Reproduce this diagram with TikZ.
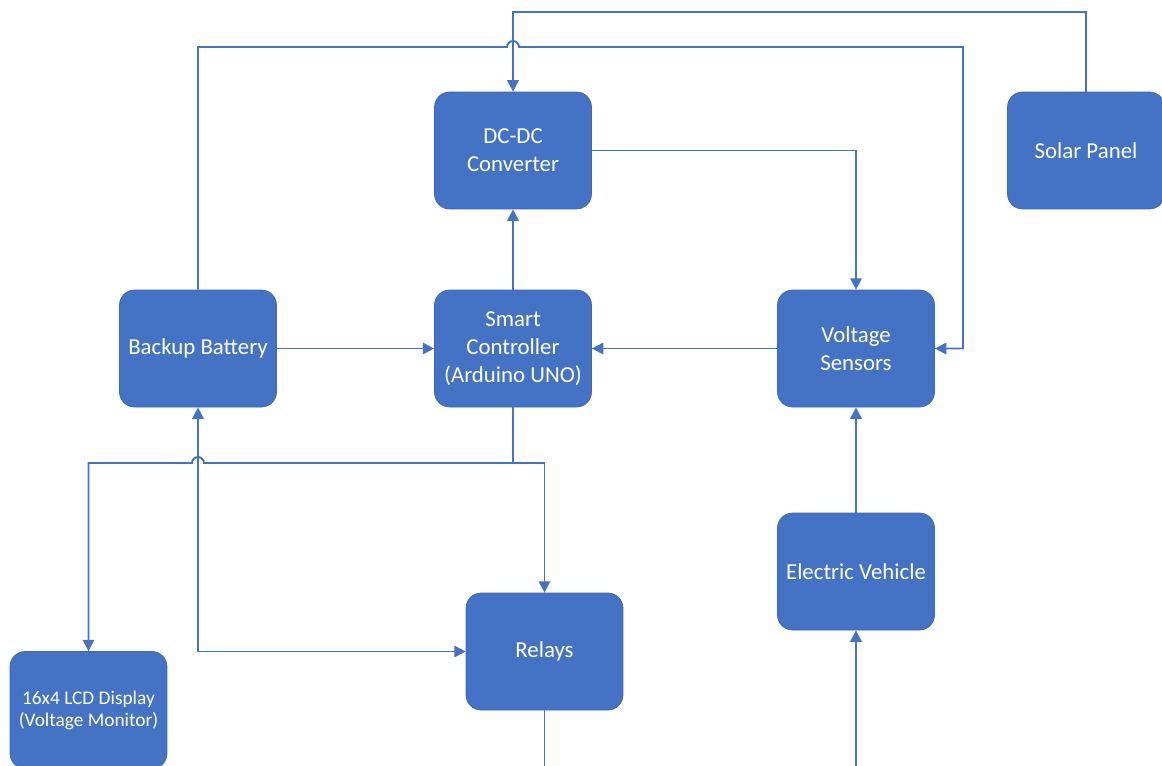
\documentclass[tikz,border=0pt]{standalone}
\usepackage{fontspec}
\setmainfont{Carlito}
\usepackage{xcolor}
\usepackage{tikz}
\usetikzlibrary{arrows.meta}

\definecolor{boxblue}{HTML}{4472C4}

\begin{document}
\begin{tikzpicture}[x = 0.02cm, y = -0.02cm,
        block/.style = {rectangle, rounded corners = 0.3cm, fill = boxblue, draw = boxblue!90!black, thin,
            minimum width = 3.14cm, minimum height = 2.34cm, text = white, align = center,
            font = \fontsize{13}{16}\selectfont, inner sep = 2pt},
        link/.style = {draw = boxblue, line width = 1.1pt, -{Triangle[length = 6.5pt, width = 6.5pt]}}]
        \useasboundingbox (0, 0) rectangle (1162, 765);
        \node (1) at (513, 150.5) [block] {DC-DC\\Converter};
        \node (2) at (1086, 150.5) [block] {Solar Panel};
        \node (3) at (198, 348.5) [block] {Backup Battery};
        \node (4) at (513, 348.5) [block] {Smart\\Controller\\(Arduino UNO)};
        \node (5) at (856, 348.5) [block] {Voltage\\Sensors};
        \node (6) at (856, 571.5) [block] {Electric Vehicle};
        \node (7) at (544.5, 651.5) [block] {Relays};
        \node (8) at (88.5, 710) [block, font = \fontsize{11}{12.5}\selectfont] {16x4 LCD Display\\(Voltage Monitor)};
        \coordinate (9) at (513, 463);
        \draw [link] (2.north) -- ++(0, -80) -| (1.north);
        \draw [link] (3.north) -- (198, 47) -- (507, 47) arc [start angle = 180, end angle = 0, radius = 0.12cm] -- (963, 47) |- (5.east);
        \draw [link] (1.east) -| (5.north);
        \draw [link] (4.north) -- (1.south);
        \draw [link] (3.east) -- (4.west);
        \draw [link] (5.west) -- (4.east);
        \draw [link, -] (4.south) -- (9);
        \draw [link] (9) -| (7.north);
        \draw [link] (9) -- (204, 463) arc [start angle = 0, end angle = 180, radius = 0.12cm] -- (88.5, 463) -- (8.north);
        \draw [link, {Triangle[length = 6.5pt, width = 6.5pt]}-{Triangle[length = 6.5pt, width = 6.5pt]}] (3.south) |- (7.west);
        \draw [link] (7.south) -- (544.5, 800) -| (6.south);
        \draw [link] (6.north) -- (5.south);
    \end{tikzpicture}
\end{document}
